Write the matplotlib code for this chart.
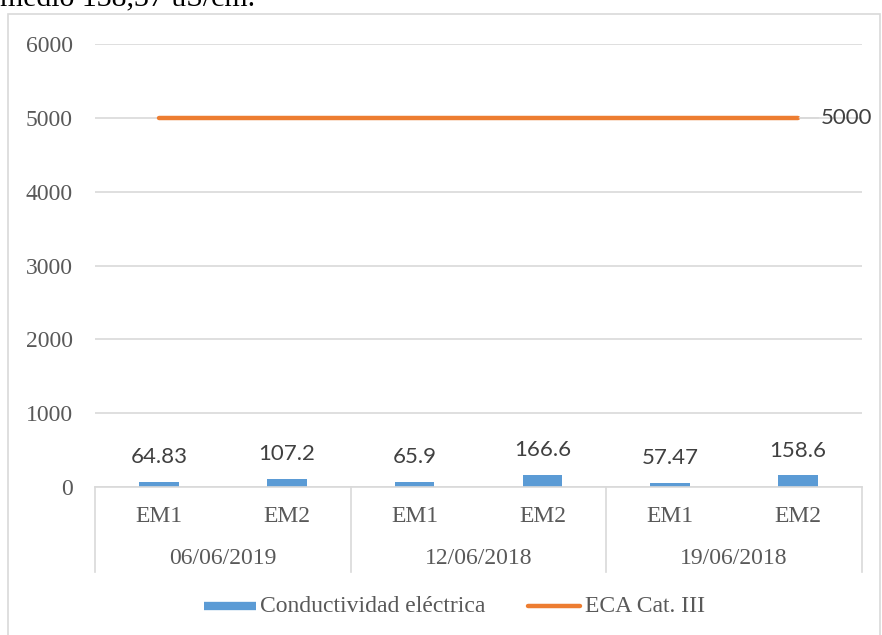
import matplotlib
matplotlib.use("Agg")
import matplotlib.pyplot as plt
from matplotlib.lines import Line2D
from matplotlib.patches import Rectangle
import matplotlib.transforms as mtransforms

# ---- data ----
stations = ["EM1", "EM2", "EM1", "EM2", "EM1", "EM2"]
dates = ["06/06/2019", "12/06/2018", "19/06/2018"]
conductividad = [64.83, 107.2, 65.9, 166.6, 57.47, 158.6]
conductividad_labels = ["64.83", "107.2", "65.9", "166.6", "57.47", "158.6"]
eca_limit = [5000, 5000, 5000, 5000, 5000, 5000]
yticks = [0, 1000, 2000, 3000, 4000, 5000, 6000]
series_names = ["Conductividad eléctrica", "ECA Cat. III"]

BLUE = "#5B9BD5"
ORANGE = "#ED7D31"
GRID = "#D9D9D9"
TXT = "#595959"
LBL = "#404040"
SERIF = "Liberation Serif"
SANS = "Lato"
FS = 17
FL = 16

W, H = 882, 635
fig = plt.figure(figsize=(W / 100, H / 100), dpi=100)

def fx(px):
    return px / W

def fy(py):
    return 1 - py / H

# chart border
fig.patches.append(Rectangle((fx(8), fy(700)), fx(880) - fx(8), fy(14) - fy(700),
                             transform=fig.transFigure, fill=False,
                             edgecolor=GRID, linewidth=1.2))

# clipped caption text at the very top (only its lower part is visible)
fig.text(fx(0), fy(5), "medio 138,37 uS/cm.", fontfamily=SERIF, fontsize=21.5,
         color="black", ha="left", va="baseline")

ax = fig.add_axes([fx(95), fy(487), fx(862) - fx(95), fy(44) - fy(487)])
n = len(conductividad)
x = list(range(n))
ax.set_xlim(-0.5, n - 0.5)
ax.set_ylim(0, 6000)
ax.set_yticks(yticks)
ax.set_yticklabels([str(t) for t in yticks], fontfamily=SERIF, fontsize=FS, color=TXT)
ax.tick_params(axis="y", length=0, pad=16)
ax.tick_params(axis="x", length=0, labelbottom=False)
ax.grid(axis="y", color=GRID, linewidth=1.2)
ax.set_axisbelow(True)
for s in ["top", "right", "left"]:
    ax.spines[s].set_visible(False)
ax.spines["bottom"].set_color(GRID)
ax.spines["bottom"].set_linewidth(1.2)

ax.bar(x, conductividad, width=0.31, color=BLUE, zorder=2)
for xi, v, lab in zip(x, conductividad, conductividad_labels):
    ax.annotate(lab, (xi, v), xytext=(0, 13.5), textcoords="offset points",
                ha="center", va="baseline", fontfamily=SANS, fontsize=FL, color=LBL)

ax.plot(x, eca_limit, color=ORANGE, linewidth=3.2, solid_capstyle="round", zorder=3)
ax.annotate("5000", (x[-1], eca_limit[-1]), xytext=(16.5, 0), textcoords="offset points",
            ha="left", va="center", fontfamily=SANS, fontsize=FL, color=LBL,
            annotation_clip=False,
            arrowprops=dict(arrowstyle="-", color=GRID, lw=1.2, shrinkA=0, shrinkB=1))

# multi-level category axis
trans = mtransforms.blended_transform_factory(ax.transData, fig.transFigure)
for xi, st in zip(x, stations):
    ax.text(xi, fy(516), st, transform=trans, ha="center", va="center",
            fontfamily=SERIF, fontsize=FS, color=TXT)
for gi, d in enumerate(dates):
    ax.text(2 * gi + 0.5, fy(558), d, transform=trans, ha="center", va="center",
            fontfamily=SERIF, fontsize=FS, color=TXT)
for sep in [-0.5, 1.5, 3.5, 5.5]:
    ax.add_line(Line2D([sep, sep], [fy(487), fy(572)], transform=trans, color=GRID,
                       linewidth=1.2, clip_on=False))

# legend (drawn manually)
fig.add_artist(Line2D([fx(204), fx(256)], [fy(606), fy(606)], color=BLUE, linewidth=6,
                      solid_capstyle="butt", transform=fig.transFigure))
fig.text(fx(260), fy(606), series_names[0], ha="left", va="center",
         fontfamily=SERIF, fontsize=FS, color=TXT)
fig.add_artist(Line2D([fx(528), fx(580)], [fy(606), fy(606)], color=ORANGE, linewidth=3.2,
                      solid_capstyle="round", transform=fig.transFigure))
fig.text(fx(585), fy(606), series_names[1], ha="left", va="center",
         fontfamily=SERIF, fontsize=FS, color=TXT)

fig.savefig("out.png", dpi=100)
